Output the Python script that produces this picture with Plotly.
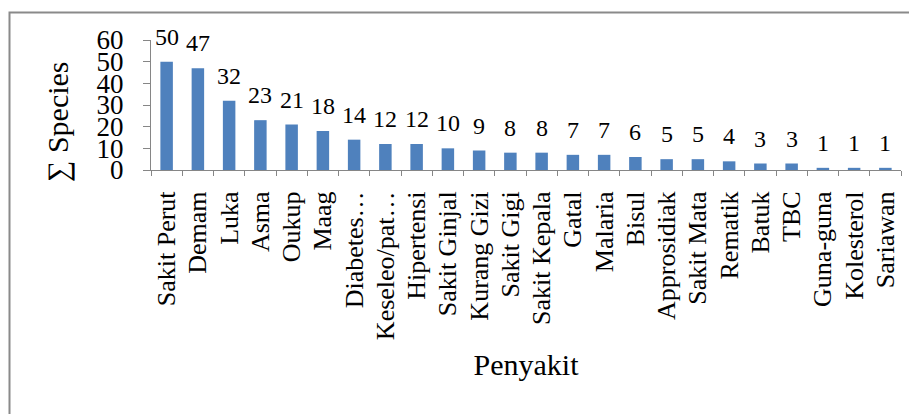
import plotly.graph_objects as go

categories = ["Sakit Perut", "Demam", "Luka", "Asma", "Oukup", "Maag", "Diabetes…",
              "Keseleo/pat…", "Hipertensi", "Sakit Ginjal", "Kurang Gizi", "Sakit Gigi",
              "Sakit Kepala", "Gatal", "Malaria", "Bisul", "Approsidiak", "Sakit Mata",
              "Rematik", "Batuk", "TBC", "Guna-guna", "Kolesterol", "Sariawan"]
values = [50, 47, 32, 23, 21, 18, 14, 12, 12, 10, 9, 8, 8, 7, 7, 6, 5, 5, 4, 3, 3, 1, 1, 1]
y_ticks = [0, 10, 20, 30, 40, 50, 60]

FONT = "Liberation Serif, Times New Roman, serif"
AXIS_COLOR = "#868686"

fig = go.Figure()
fig.add_trace(go.Bar(x=categories, y=values, marker=dict(color="#4F81BD", line=dict(width=0)),
                     hoverinfo="x+y"))

for c, v in zip(categories, values):
    fig.add_annotation(x=c, y=v, text=str(v), showarrow=False, yanchor="middle", yshift=25,
                       font=dict(family=FONT, size=24, color="black"))

# page has an 8px body margin; figure coordinates = page coordinates - 8
OFF = 8
W, H = 917 - OFF, 414 - OFF
L, R, T = 151 - OFF, 16, 40 - OFF
B = H - (170 - OFF)
pw, ph = W - L - R, H - T - B

def px_to_paper_x(px):
    return (px - OFF - L) / pw

def px_to_paper_y(py):
    return (H - B - (py - OFF)) / ph

fig.add_shape(type="rect", xref="paper", yref="paper",
              x0=px_to_paper_x(9.5), x1=px_to_paper_x(940),
              y0=px_to_paper_y(440), y1=px_to_paper_y(12.5),
              line=dict(color="#8a8a8a", width=2), fillcolor="rgba(0,0,0,0)", layer="below")

fig.add_annotation(text="∑ Species", xref="paper", yref="paper",
                   x=px_to_paper_x(58), y=px_to_paper_y(122), textangle=-90,
                   showarrow=False, xanchor="center", yanchor="middle",
                   font=dict(family=FONT, size=30, color="black"))

fig.update_layout(
    width=W, height=H,
    margin=dict(l=L, r=R, t=T, b=B, pad=0, autoexpand=False),
    paper_bgcolor="white", plot_bgcolor="white",
    bargap=0.6, showlegend=False,
    font=dict(family=FONT, color="black"),
    xaxis=dict(
        type="category", range=[-0.5, len(categories) - 0.5], automargin=False,
        showline=True, linecolor=AXIS_COLOR, linewidth=1,
        ticks="outside", ticklen=5, tickcolor=AXIS_COLOR, tickson="boundaries",
        tickangle=-90, tickfont=dict(family=FONT, size=26, color="black"),
        ticklabelstandoff=10, showgrid=False, zeroline=False,
        title=dict(text="Penyakit", font=dict(family=FONT, size=30, color="black"), standoff=14),
    ),
    yaxis=dict(
        range=[0, 60], tickvals=y_ticks, ticktext=[str(t) for t in y_ticks], automargin=False,
        showline=True, linecolor=AXIS_COLOR, linewidth=1,
        ticks="outside", ticklen=7, tickcolor=AXIS_COLOR,
        tickfont=dict(family=FONT, size=27, color="black"),
        ticklabelstandoff=14, showgrid=False, zeroline=False,
    ),
)

fig.write_html("out.html")
